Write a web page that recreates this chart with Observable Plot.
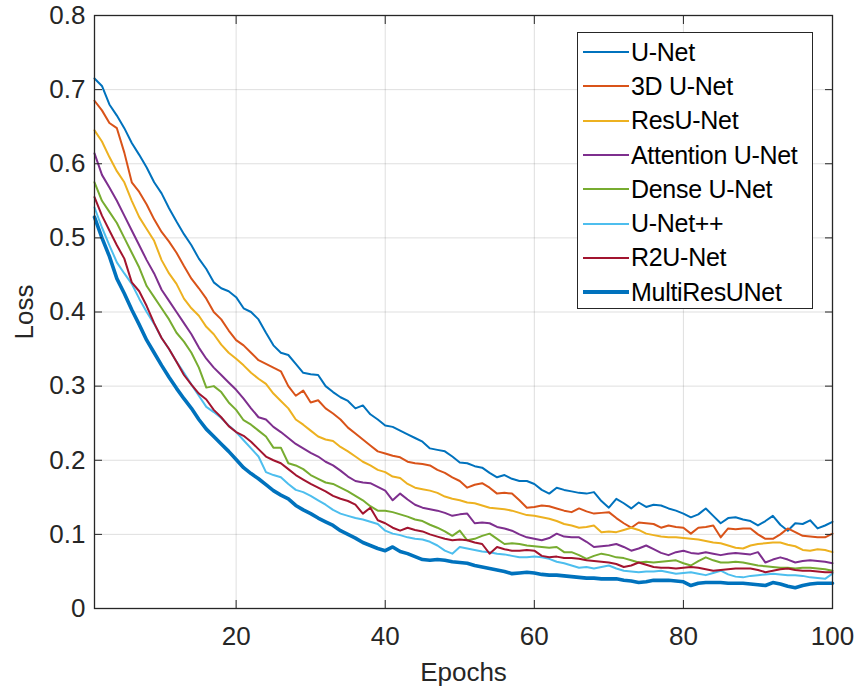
<!DOCTYPE html>
<html><head><meta charset="utf-8">
<script src="https://cdn.jsdelivr.net/npm/d3@7"></script>
<script src="https://cdn.jsdelivr.net/npm/@observablehq/plot@0.6"></script>
<style>
body{margin:0;background:#fff;}
#wrap{position:relative;width:855px;height:692px;font-family:"Liberation Sans",Arial,Helvetica,sans-serif;}
#legend{position:absolute;left:577px;top:32px;width:236px;height:277px;border:1px solid #262626;background:#fff;box-sizing:border-box;padding-top:2px;}
.row{height:34.3px;display:flex;align-items:center;font-size:25px;color:#000;white-space:nowrap;letter-spacing:-0.3px;}
.sw{width:46px;margin-left:5px;margin-right:2px;}
</style></head>
<body>
<div id="wrap"><div id="chart"></div><div id="legend"></div></div>
<script>
const models = ["U-Net","3D U-Net","ResU-Net","Attention U-Net","Dense U-Net","U-Net++","R2U-Net","MultiResUNet"];
const colors = ["#0072BD","#D95319","#EDB120","#7E2F8E","#77AC30","#4DBEEE","#A2142F","#0072BD"];
const xTicks = [20,40,60,80,100];
const yTicks = [0,0.1,0.2,0.3,0.4,0.5,0.6,0.7,0.8];

const unet = [
.715,.705,.680,.665,.648,.628,.612,.595,.575,.560,
.540,.522,.505,.490,.472,.458,.440,.432,.428,.420,
.405,.400,.390,.372,.355,.345,.342,.330,.318,.316,
.315,.300,.292,.285,.280,.270,.274,.262,.255,.247,
.245,.240,.235,.230,.225,.216,.214,.212,.205,.197,
.196,.192,.190,.183,.177,.180,.175,.172,.172,.168,
.160,.155,.163,.160,.158,.156,.155,.157,.145,.136,
.148,.142,.135,.143,.137,.140,.139,.135,.132,.128,
.123,.127,.135,.125,.115,.122,.123,.120,.118,.112,
.118,.125,.113,.105,.115,.114,.119,.108,.112,.117];
const unet3d = [
.685,.672,.655,.648,.615,.575,.562,.545,.525,.508,
.495,.480,.462,.445,.432,.418,.400,.390,.375,.362,
.355,.345,.335,.330,.325,.320,.300,.287,.294,.278,
.281,.270,.263,.255,.244,.236,.228,.220,.212,.209,
.206,.204,.198,.196,.195,.193,.187,.183,.177,.172,
.163,.167,.169,.163,.155,.156,.155,.146,.136,.137,
.139,.138,.135,.132,.130,.135,.131,.128,.129,.130,
.122,.115,.109,.116,.115,.114,.109,.112,.110,.109,
.101,.109,.110,.112,.096,.108,.107,.108,.108,.100,
.094,.094,.100,.108,.103,.098,.097,.096,.096,.101];
const resunet = [
.645,.630,.609,.590,.575,.550,.528,.512,.496,.470,
.452,.438,.418,.405,.395,.380,.370,.356,.345,.337,
.328,.318,.310,.303,.290,.280,.270,.255,.248,.240,
.232,.228,.226,.218,.212,.205,.198,.193,.187,.184,
.178,.176,.168,.163,.161,.159,.156,.151,.148,.146,
.143,.142,.139,.136,.135,.134,.132,.129,.126,.125,
.123,.121,.118,.114,.112,.109,.110,.112,.103,.104,
.103,.106,.109,.106,.101,.099,.097,.096,.096,.095,
.094,.093,.091,.089,.088,.085,.082,.081,.085,.087,
.088,.089,.089,.086,.084,.079,.078,.080,.079,.076];
const attention = [
.614,.585,.568,.550,.530,.510,.490,.470,.452,.430,
.415,.400,.385,.370,.352,.337,.325,.315,.305,.295,
.283,.270,.258,.255,.245,.238,.230,.222,.216,.210,
.205,.198,.193,.186,.178,.172,.170,.169,.164,.159,
.146,.155,.147,.140,.136,.134,.132,.129,.125,.127,
.128,.115,.116,.115,.110,.108,.105,.100,.096,.094,
.092,.095,.101,.097,.096,.096,.090,.083,.084,.085,
.087,.083,.078,.081,.085,.080,.075,.072,.076,.078,
.075,.074,.076,.074,.072,.074,.075,.074,.073,.076,
.062,.066,.069,.066,.062,.064,.065,.064,.063,.061];
const dense = [
.575,.550,.535,.520,.500,.480,.460,.435,.420,.405,
.390,.372,.360,.345,.325,.298,.300,.292,.278,.268,
.254,.248,.240,.232,.217,.217,.196,.193,.188,.180,
.175,.170,.168,.163,.158,.152,.146,.138,.132,.132,
.130,.127,.124,.120,.118,.113,.109,.104,.098,.105,
.092,.094,.098,.101,.094,.087,.088,.087,.085,.084,
.083,.082,.083,.076,.076,.072,.067,.071,.074,.072,
.069,.068,.065,.062,.063,.062,.063,.064,.065,.061,
.058,.064,.069,.065,.062,.062,.063,.062,.060,.058,
.057,.056,.055,.055,.054,.055,.055,.054,.053,.051];
const unetpp = [
.541,.514,.490,.467,.452,.438,.418,.400,.384,.365,
.350,.333,.318,.302,.287,.272,.265,.257,.247,.238,
.227,.216,.205,.184,.180,.177,.168,.160,.157,.152,
.146,.140,.133,.128,.125,.122,.120,.117,.114,.105,
.101,.099,.096,.094,.093,.090,.085,.078,.074,.083,
.081,.079,.077,.076,.074,.073,.071,.069,.069,.070,
.069,.067,.063,.061,.058,.055,.056,.054,.056,.058,
.054,.051,.050,.049,.050,.050,.051,.049,.047,.048,
.049,.047,.045,.048,.051,.046,.043,.042,.044,.045,
.046,.047,.046,.045,.045,.044,.042,.041,.040,.047];
const r2unet = [
.555,.530,.510,.490,.472,.440,.428,.408,.385,.365,
.350,.333,.315,.302,.290,.282,.268,.258,.246,.238,
.233,.225,.215,.205,.200,.196,.188,.180,.174,.168,
.163,.158,.152,.148,.145,.140,.128,.136,.119,.115,
.109,.105,.109,.106,.104,.100,.097,.094,.092,.093,
.092,.089,.087,.074,.083,.080,.078,.078,.079,.078,
.071,.069,.070,.068,.068,.067,.065,.064,.063,.062,
.060,.056,.058,.062,.059,.056,.055,.055,.054,.055,
.056,.055,.053,.051,.052,.053,.054,.054,.054,.052,
.049,.051,.053,.054,.052,.051,.051,.050,.049,.049];
const multires = [
.528,.500,.475,.445,.425,.403,.383,.362,.345,.328,
.312,.297,.283,.270,.255,.242,.232,.222,.212,.201,
.190,.182,.175,.167,.159,.153,.148,.139,.133,.128,
.122,.117,.112,.105,.100,.095,.089,.085,.081,.078,
.083,.077,.074,.070,.066,.065,.066,.065,.063,.062,
.061,.058,.056,.054,.052,.050,.047,.048,.049,.048,
.046,.045,.045,.044,.043,.042,.041,.041,.040,.040,
.040,.038,.037,.035,.036,.038,.038,.038,.037,.036,
.031,.034,.035,.035,.035,.034,.034,.034,.033,.032,
.031,.035,.033,.030,.028,.031,.033,.034,.034,.034];

const seriesValues = [unet, unet3d, resunet, attention, dense, unetpp, r2unet, multires];
const widths = [2, 2, 2, 2, 2, 2, 2, 3.6];

const lineMarks = seriesValues.map((vals, k) =>
  Plot.line(vals.map((v, i) => ({epoch: i + 1, loss: v, model: models[k]})),
    {x: "epoch", y: "loss", stroke: colors[k], strokeWidth: widths[k], strokeLinejoin: "round"}));

const gridStyle = {stroke: "#262626", strokeOpacity: 0.15, strokeWidth: 1};
const chart = Plot.plot({
  width: 855, height: 692,
  marginLeft: 94, marginRight: 23, marginTop: 15, marginBottom: 84,
  x: {domain: [1, 100]},
  y: {domain: [0, 0.8]},
  style: {fontFamily: "'Liberation Sans', Arial, Helvetica, sans-serif", fontSize: "26px", color: "#262626", background: "#fff"},
  marks: [
    Plot.gridX(xTicks.slice(0, 4), gridStyle),
    Plot.gridY(yTicks.slice(1, 8), gridStyle),
    ...lineMarks,
    Plot.frame({stroke: "#262626", strokeWidth: 1.3}),
    Plot.axisX(xTicks, {anchor: "bottom", tickSize: -8, tickFormat: () => "", label: null, stroke: "#262626"}),
    Plot.axisX(xTicks, {anchor: "top", tickSize: -8, tickFormat: () => "", label: null, stroke: "#262626"}),
    Plot.axisY(yTicks, {anchor: "left", tickSize: -8, tickFormat: () => "", label: null, stroke: "#262626"}),
    Plot.axisY(yTicks, {anchor: "right", tickSize: -8, tickFormat: () => "", label: null, stroke: "#262626"}),
    Plot.axisX(xTicks, {anchor: "bottom", tickSize: 0, tickPadding: 18, tickFormat: d => String(d), fill: "#262626",
      label: "Epochs", labelAnchor: "center", labelArrow: "none", labelOffset: 72}),
    Plot.axisY(yTicks, {anchor: "left", tickSize: 0, tickPadding: 9, tickFormat: d => String(d), fill: "#262626",
      label: "Loss", labelAnchor: "center", labelArrow: "none", labelOffset: 80})
  ]
});
document.getElementById("chart").appendChild(chart);

const legend = document.getElementById("legend");
models.forEach((m, k) => {
  const row = document.createElement("div");
  row.className = "row";
  const sw = document.createElement("div");
  sw.className = "sw";
  sw.style.borderTop = `${widths[k] === 2 ? 2.5 : 4}px solid ${colors[k]}`;
  const t = document.createElement("span");
  t.textContent = m;
  row.appendChild(sw); row.appendChild(t);
  legend.appendChild(row);
});
</script>
</body></html>
